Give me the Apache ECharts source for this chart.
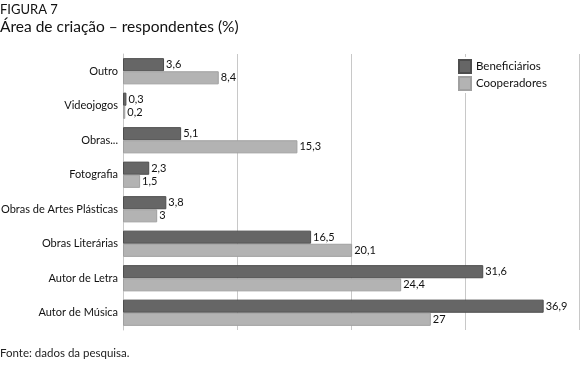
<!DOCTYPE html>
<html><head><meta charset="utf-8">
<script src="https://cdn.jsdelivr.net/npm/echarts@6/dist/echarts.min.js"></script>
<style>html,body{margin:0;padding:0;background:#fff}#c{width:580px;height:367px}</style>
</head><body><div id="c"></div>
<script>
const categories = ['Outro','Videojogos','Obras...','Fotografia','Obras de Artes Plásticas','Obras Literárias','Autor de Letra','Autor de Música'];
const beneficiarios = [3.6, 0.3, 5.1, 2.3, 3.8, 16.5, 31.6, 36.9];
const cooperadores = [8.4, 0.2, 15.3, 1.5, 3, 20.1, 24.4, 27];
const seriesNames = ['Beneficiários','Cooperadores'];
const FONT = 'Lato';
const chart = echarts.init(document.getElementById('c'));
const fmt = p => String(p.value).replace('.', ',');
chart.setOption({
  animation:false,
  textStyle:{fontFamily:FONT},
  graphic:[
    {type:'text',left:0,top:3,style:{text:'FIGURA 7',font:'13px Lato',fill:'#111'}},
    {type:'text',left:0,top:19,style:{text:'Área de criação – respondentes (%)',font:'15.5px Lato',fill:'#111'}},
    {type:'text',left:0,top:347,style:{text:'Fonte: dados da pesquisa.',font:'11.5px Lato',fill:'#222'}}
  ],
  legend:{orient:'vertical',left:456,top:57,itemWidth:12,itemHeight:13,itemGap:2,padding:[2,4,2,2],icon:'rect',
    backgroundColor:'#fff',textStyle:{fontSize:11.5,color:'#111',fontFamily:FONT},data:seriesNames},
  grid:{left:123,right:1,top:54,bottom:37,containLabel:false,outerBoundsMode:'none'},
  xAxis:{type:'value',min:0,max:40,interval:10,axisLabel:{show:false},axisLine:{show:false},axisTick:{show:false},
    splitLine:{lineStyle:{color:'#c8c8c8',width:1}}},
  yAxis:{type:'category',inverse:true,data:categories,axisTick:{show:false},
    axisLine:{lineStyle:{color:'#c8c8c8'}},axisLabel:{fontSize:11,color:'#111',margin:5,fontFamily:FONT}},
  series:[
    {name:seriesNames[0],type:'bar',data:beneficiarios,barGap:'0%',barCategoryGap:'24%',
      itemStyle:{color:'#666666',borderColor:'#4d4d4d',borderWidth:1},
      label:{show:true,position:'right',distance:2,fontSize:11,color:'#111',formatter:fmt}},
    {name:seriesNames[1],type:'bar',data:cooperadores,
      itemStyle:{color:'#b3b3b3',borderColor:'#a0a0a0',borderWidth:1},
      label:{show:true,position:'right',distance:2,fontSize:11,color:'#111',formatter:fmt}}
  ]
});
</script></body></html>
